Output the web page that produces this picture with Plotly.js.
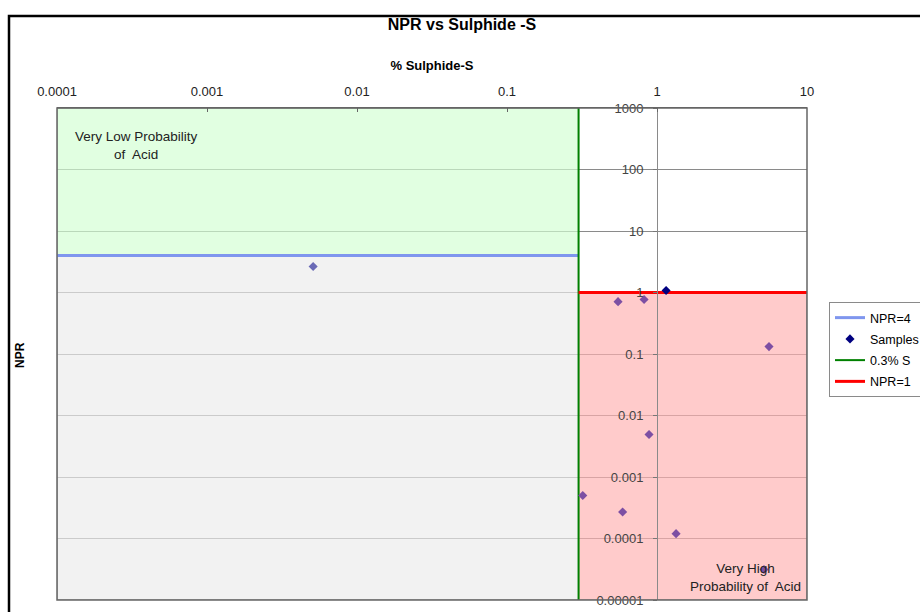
<!DOCTYPE html>
<html>
<head>
<meta charset="utf-8">
<script src="https://cdn.plot.ly/plotly-3.0.1.min.js"></script>
<style>html,body{margin:0;padding:0;background:#fff;}#chart{width:920px;height:612px;}</style>
</head>
<body>
<div id="chart"></div>
<script>
// ---- data ----
const sampleSulphide = [1.15, 0.0051, 0.55, 0.82, 5.58, 0.885, 0.32, 0.59, 1.34, 5.17];
const sampleNPR      = [1.08, 2.65, 0.71, 0.77, 0.132, 0.0049, 0.0005, 0.00027, 0.00012, 0.0000314];
const xTickVals  = [0.0001, 0.001, 0.01, 0.1, 1, 10];
const xTickText  = ["0.0001", "0.001", "0.01", "0.1", "1", "10"];
const yTickVals  = [0.00001, 0.0001, 0.001, 0.01, 0.1, 1, 10, 100, 1000];
const yTickText  = ["0.00001", "0.0001", "0.001", "0.01", "0.1", "1", "10", "100", "1000"];
const sulphideLimit = 0.3;   // 0.3% S
const nprHigh = 4;           // NPR=4
const nprLow = 1;            // NPR=1
const xMin = 0.0001, xMax = 10, yMin = 0.00001, yMax = 1000;

const FONT = "Liberation Sans, Arial, sans-serif";

// marker colour depends on which shaded zone the point falls in
const sampleColors = sampleSulphide.map((x, i) => {
  const y = sampleNPR[i];
  if (x >= sulphideLimit && y <= nprLow) return "#7d4fa3";
  if (x < sulphideLimit && y < nprHigh) return "#6a6ab6";
  return "#000080";
});

const traces = [
  { name: "NPR=4", x: [xMin, sulphideLimit], y: [nprHigh, nprHigh], mode: "lines",
    line: { color: "#7f96ee", width: 3 }, legendrank: 1, legendgroup: "a", hoverinfo: "skip" },
  { name: "0.3% S", x: [sulphideLimit, sulphideLimit], y: [yMin, yMax], mode: "lines",
    line: { color: "#008000", width: 2 }, legendrank: 3, legendgroup: "c", hoverinfo: "skip" },
  { name: "NPR=1", x: [sulphideLimit, xMax], y: [nprLow, nprLow], mode: "lines",
    line: { color: "#ff0000", width: 3 }, legendrank: 4, legendgroup: "d", hoverinfo: "skip" },
  { name: "Samples", x: sampleSulphide, y: sampleNPR, mode: "markers",
    marker: { symbol: "diamond", size: 7, color: sampleColors }, legendrank: 2, legendgroup: "b" }
];

const W = 920, H = 612;
const plotL = 57, plotR = 807, plotT = 108, plotB = 600;
const pw = plotR - plotL, ph = plotB - plotT;
const px = v => (v - plotL) / pw;
const py = v => (plotB - v) / ph;

const layout = {
  width: W, height: H,
  margin: { l: plotL, r: W - plotR, t: plotT, b: H - plotB, autoexpand: false },
  paper_bgcolor: "#ffffff", plot_bgcolor: "#ffffff",
  font: { family: FONT, size: 13, color: "#000" },
  title: { text: "NPR vs Sulphide -S", x: 462 / W, xref: "container", y: 1 - 24 / H, yref: "container",
           yanchor: "middle", xanchor: "center", font: { family: FONT, size: 16, weight: "bold", color: "#000" } },
  showlegend: true,
  legend: { xref: "container", yref: "container", x: 829 / W, y: 1 - 302 / H, xanchor: "left", yanchor: "top",
            bgcolor: "#ffffff", bordercolor: "#8a8a8a", borderwidth: 1,
            font: { family: FONT, size: 12.5, color: "#000" }, tracegroupgap: 2, itemwidth: 30 },
  xaxis: {
    type: "log", range: [Math.log10(xMin), Math.log10(xMax)], side: "top",
    tickvals: xTickVals, ticktext: xTickText, ticks: "inside", ticklen: 4, tickcolor: "#666",
    showline: true, linecolor: "#666", linewidth: 1, showgrid: false, zeroline: false,
    tickfont: { family: FONT, size: 13, color: "#222" }, ticklabelstandoff: 6,
    title: { text: "% Sulphide-S", font: { family: FONT, size: 13, weight: "bold", color: "#000" }, standoff: 10 },
    automargin: false
  },
  yaxis: {
    type: "log", range: [Math.log10(yMin), Math.log10(yMax)], anchor: "free", position: 0.8,
    tickvals: yTickVals, ticktext: yTickText, ticks: "outside", ticklen: 4, tickcolor: "#777",
    showline: true, linecolor: "#8a8a8a", linewidth: 1,
    showgrid: true, gridcolor: "#8a8a8a", gridwidth: 1, zeroline: false,
    tickfont: { family: FONT, size: 13, color: "#444" }, ticklabelstandoff: 7,
    automargin: false
  },
  shapes: [
    { type: "rect", xref: "x", yref: "y", x0: xMin, x1: sulphideLimit, y0: nprHigh, y1: yMax,
      fillcolor: "rgba(210,255,210,0.67)", line: { color: "#8a8a8a", width: 1 }, layer: "between" },
    { type: "rect", xref: "x", yref: "y", x0: xMin, x1: sulphideLimit, y0: yMin, y1: nprHigh,
      fillcolor: "rgba(236,236,236,0.67)", line: { color: "#8a8a8a", width: 1 }, layer: "between" },
    { type: "rect", xref: "x", yref: "y", x0: sulphideLimit, x1: xMax, y0: yMin, y1: nprLow,
      fillcolor: "rgba(255,178,178,0.67)", line: { color: "#8a8a8a", width: 1 }, layer: "between" },
    // plot area border
    { type: "rect", xref: "paper", yref: "paper", x0: 0, x1: 1, y0: 0, y1: 1,
      line: { color: "#666", width: 1.5 }, fillcolor: "rgba(0,0,0,0)", layer: "above" },
    // chart frame
    { type: "rect", xref: "paper", yref: "paper", x0: px(9), x1: px(960), y0: py(660), y1: py(16),
      line: { color: "#000", width: 2.5 }, fillcolor: "rgba(0,0,0,0)", layer: "above" }
  ],
  annotations: [
    { text: "Very Low Probability<br>of  Acid", xref: "paper", yref: "paper", x: px(136), y: py(145),
      xanchor: "center", yanchor: "middle",
      showarrow: false, align: "center", font: { family: FONT, size: 13.5, color: "#222" } },
    { text: "Very High<br>Probability of  Acid", xref: "paper", yref: "paper", x: px(745), y: py(577),
      xanchor: "center", yanchor: "middle",
      showarrow: false, align: "center", font: { family: FONT, size: 13.5, color: "#222" } },
    { text: "NPR", xref: "paper", yref: "paper", x: px(20), y: py(355), textangle: -90,
      xanchor: "center", yanchor: "middle",
      showarrow: false, font: { family: FONT, size: 12, weight: "bold", color: "#000" } }
  ]
};

Plotly.newPlot("chart", traces, layout, { displayModeBar: false, responsive: false });
</script>
</body>
</html>
